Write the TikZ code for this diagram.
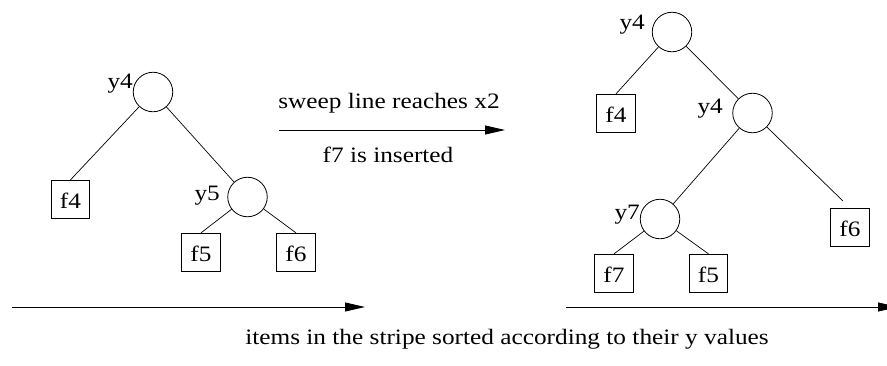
\documentclass[tikz,border=0pt]{standalone}
\usepackage{fontspec}
\setmainfont[FakeStretch=1.15]{Liberation Serif}
\usetikzlibrary{arrows.meta}
\begin{document}
\begin{tikzpicture}[x=1pt,y=-1pt,
  every node/.style={font=\fontsize{22}{26}\selectfont},
  inner/.style={draw,circle,minimum size=39.5pt,inner sep=0pt,line width=0.8pt},
  leaf/.style={draw,rectangle,minimum width=38.5pt,minimum height=38.5pt,inner sep=0pt,
    text height=17pt,text depth=0pt,line width=0.8pt},
  key/.style={anchor=base east,inner sep=0pt},
  edge/.style={line width=0.7pt},
  flow/.style={line width=0.9pt,-{Triangle[length=20pt,width=9pt]}},
  caption/.style={anchor=base,inner sep=0pt}]
\useasboundingbox (0,0) rectangle (887,365);

% tree before the event
\node[inner] (Ly4) at (153,92) {};
\node[leaf]  (Lf4) at (70.5,199.5) {f4};
\node[inner] (Ly5) at (247.5,197) {};
\node[leaf]  (Lf5) at (201,252.5) {f5};
\node[leaf]  (Lf6) at (296,252.5) {f6};
\node[key] (Lk4) at (133,88) {y4};
\node[key] (Lk5) at (220,200) {y5};
\draw[edge] (Ly4) -- (Lf4.north);
\draw[edge] (Ly4) -- (Ly5);
\draw[edge] (Ly5) -- (Lf5.north);
\draw[edge] (Ly5) -- (Lf6.north);

% tree after the event
\node[inner] (Ry4)  at (672,32) {};
\node[leaf]  (Rf4)  at (616,113.5) {f4};
\node[inner] (Ry4b) at (752.5,113) {};
\node[inner] (Ry7)  at (660,219) {};
\node[leaf]  (Rf6)  at (850,227.5) {f6};
\node[leaf]  (Rf7)  at (614,273.5) {f7};
\node[leaf]  (Rf5)  at (708.5,273.5) {f5};
\node[key] (Rk4)  at (645,29) {y4};
\node[key] (Rk4b) at (723,113) {y4};
\node[key] (Rk7)  at (640,219) {y7};
\draw[edge] (Ry4) -- (Rf4.north);
\draw[edge] (Ry4) -- (Ry4b);
\draw[edge] (Ry4b) -- (Ry7);
\draw[edge,shorten >=10pt] (Ry4b) -- (Rf6.north);
\draw[edge] (Ry7) -- (Rf7.north);
\draw[edge] (Ry7) -- (Rf5.north);

% transition arrow with its labels
\coordinate (m1) at (279,130);
\coordinate (m2) at (505,130);
\draw[flow] (m1) -- (m2);
\node[caption] (sweep) at (389,108) {sweep line reaches x2};
\node[caption] (ins) at (388,162) {f7 is inserted};

% ordering axes
\coordinate (a1) at (12,307);
\coordinate (a2) at (365,307);
\coordinate (b1) at (566,307);
\coordinate (b2) at (898,307);
\draw[flow] (a1) -- (a2);
\draw[flow] (b1) -- (b2);
\node[caption] (order) at (507,344) {items in the stripe sorted according to their y values};
\end{tikzpicture}
\end{document}
